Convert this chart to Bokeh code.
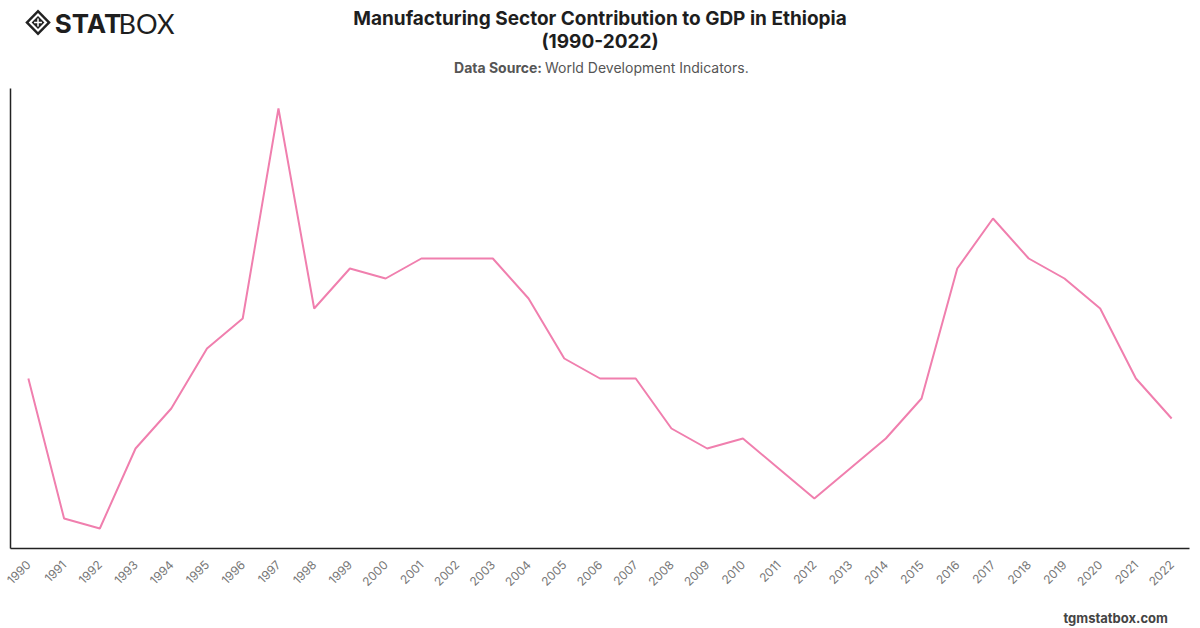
from bokeh.plotting import figure
from bokeh.layouts import column
from bokeh.models import Range1d, FixedTicker
from bokeh.core.properties import value
from bokeh.embed import file_html
from bokeh.resources import INLINE

# Manufacturing, value added (% of GDP), Ethiopia
years = [str(y) for y in range(1990, 2023)]
share = [4.2, 2.8, 2.7, 3.5, 3.9, 4.5, 4.8, 6.9, 4.9, 5.3,
         5.2, 5.4, 5.4, 5.4, 5.0, 4.4, 4.2, 4.2, 3.7, 3.5,
         3.6, 3.3, 3.0, 3.3, 3.6, 4.0, 5.3, 5.8, 5.4, 5.2,
         4.9, 4.2, 3.8]

title_lines = ["Manufacturing Sector Contribution to GDP in Ethiopia", "(1990-2022)"]
source_label = "Data Source:"
source_text = "World Development Indicators."
footer_text = "tgmstatbox.com"

FONT = "Inter"
W = 1200
HEAD_H, FOOT_H = 88, 28
MAIN_H = 628 - HEAD_H - FOOT_H


def blank(height):
    """A bare figure whose data units are pixels, y growing downwards."""
    f = figure(width=W, height=height, x_range=Range1d(0, W), y_range=Range1d(height, 0),
               output_backend="svg", toolbar_location=None,
               min_border=0, min_border_left=0, min_border_right=0,
               min_border_top=0, min_border_bottom=0)
    f.axis.visible = False
    f.grid.visible = False
    f.outline_line_color = None
    f.border_fill_color = "white"
    return f


# header: logo, title, source line
head = blank(HEAD_H)
cx, cy = 28, 22
for r, color in [(13, "#222222"), (9.5, "white"), (6.5, "#222222")]:
    head.patch(x=[cx, cx + r, cx, cx - r], y=[cy - r, cy, cy + r, cy],
               fill_color=color, line_color=None)
head.multi_line(xs=[[cx - 4, cx + 4], [cx, cx]], ys=[[cy, cy], [cy - 4, cy + 4]],
                line_color="white", line_width=1.5)
head.text(x=[45], y=[23], text=["STAT"], text_font=value(FONT), text_font_size="26px",
          text_font_style="bold", text_color="#1e1e1e", text_baseline="middle")
head.text(x=[110], y=[23], text=["BOX"], text_font=value("Lato"), text_font_size="27px",
          text_color="#1e1e1e", text_baseline="middle")
head.text(x=[600, 600], y=[18, 41], text=title_lines, text_font=value(FONT),
          text_font_size="19px", text_font_style="bold", text_color="#1e1e1e",
          text_align="center", text_baseline="middle")
head.text(x=[541], y=[67], text=[source_label], text_font=value(FONT), text_font_size="14px",
          text_font_style="bold", text_color="#555555",
          text_align="right", text_baseline="middle")
head.text(x=[544], y=[67], text=[source_text], text_font=value(FONT), text_font_size="14px",
          text_color="#555555", text_align="left", text_baseline="middle")

# main chart
p = figure(
    width=W, height=MAIN_H, x_range=years,
    y_range=Range1d(min(share) - 0.2, max(share) + 0.2),
    output_backend="svg", toolbar_location=None,
    min_border_left=10, min_border_right=11,
    min_border_top=0, min_border_bottom=MAIN_H - (548 - HEAD_H),
)
p.outline_line_color = None
p.xgrid.visible = False
p.ygrid.visible = False
p.border_fill_color = "white"

p.line(x=years, y=share, line_color="#f07fae", line_width=2)

xa = p.xaxis[0]
xa.axis_line_color = "#222222"
xa.axis_line_width = 1.5
xa.major_tick_line_color = None
xa.minor_tick_line_color = None
xa.major_label_orientation = 0.785398
xa.major_label_text_font = FONT
xa.major_label_text_font_size = "12px"
xa.major_label_text_color = "#777777"
xa.major_label_standoff = 8

ya = p.yaxis[0]
ya.ticker = FixedTicker(ticks=[])
ya.axis_line_color = "#222222"
ya.axis_line_width = 1.5
ya.major_tick_line_color = None
ya.minor_tick_line_color = None

# footer
foot = blank(FOOT_H)
foot.text(x=[1178], y=[617 - (628 - FOOT_H)], text=[footer_text], text_font=value(FONT),
          text_font_size="13px", text_font_style="bold", text_color="#444444",
          text_align="right", text_baseline="middle")

layout = column(head, p, foot, spacing=0)
open("out.html", "w").write(file_html(layout, INLINE))
